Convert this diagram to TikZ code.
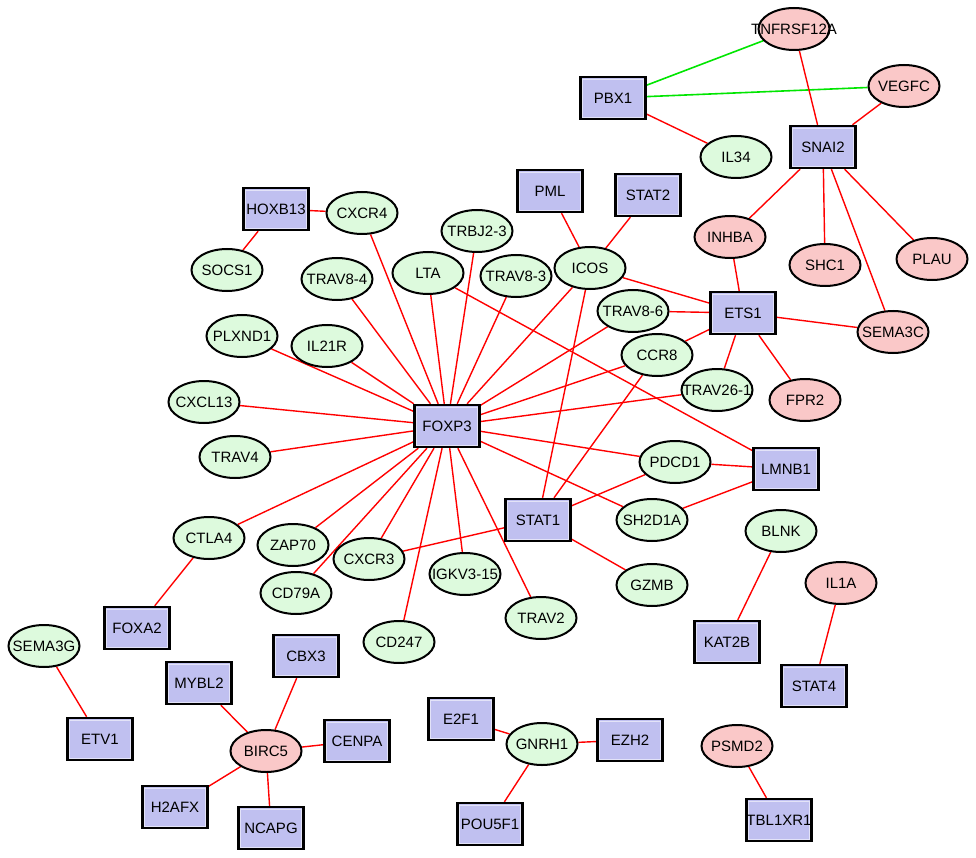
\documentclass[tikz,border=0pt]{standalone}
\usepackage{fontspec}
\setmainfont{Liberation Sans}
\usetikzlibrary{shapes.geometric,backgrounds}
\definecolor{gfill}{RGB}{221,250,221}
\definecolor{pfill}{RGB}{250,200,200}
\definecolor{bfill}{RGB}{192,192,240}
\definecolor{edgered}{RGB}{255,0,0}
\definecolor{edgegreen}{RGB}{0,230,0}
\tikzset{
  el/.style={ellipse, draw=black, line width=2pt, minimum width=71pt, minimum height=42pt, inner sep=0pt,
    label={[font=\fontsize{15}{17}\selectfont, inner sep=0pt]center:#1}},
  gn/.style={el={#1}, fill=gfill},
  pk/.style={el={#1}, fill=pfill},
  bx/.style={rectangle, draw=black, line width=2.4pt, fill=bfill, minimum width=65pt, minimum height=42pt,
    inner sep=0pt, font=\fontsize{15}{17}\selectfont,
    path picture={\draw[white!55!bfill, line width=0.9pt]
      ([shift={(2pt,-2pt)}]path picture bounding box.north west) rectangle
      ([shift={(-2pt,2pt)}]path picture bounding box.south east);}},
  re/.style={draw=edgered, line width=1.4pt},
  ge/.style={draw=edgegreen, line width=1.6pt}
}
\begin{document}
\begin{tikzpicture}[x=1pt,y=-1pt]
\useasboundingbox (0,0) rectangle (976,858);
% blue boxes
\node[bx] (PBX1) at (613,98) {PBX1};
\node[bx] (SNAI2) at (823,147) {SNAI2};
\node[bx] (STAT2) at (648,195) {STAT2};
\node[bx] (PML) at (550,191) {PML};
\node[bx] (HOXB13) at (276,209) {HOXB13};
\node[bx] (ETS1) at (743,313) {ETS1};
\node[bx] (FOXP3) at (447,426) {FOXP3};
\node[bx] (LMNB1) at (786,469) {LMNB1};
\node[bx] (STAT1) at (538,520) {STAT1};
\node[bx] (FOXA2) at (137,628) {FOXA2};
\node[bx] (KAT2B) at (727,642) {KAT2B};
\node[bx] (STAT4) at (814,686) {STAT4};
\node[bx] (E2F1) at (461,719) {E2F1};
\node[bx] (EZH2) at (630,740) {EZH2};
\node[bx] (POU5F1) at (490,824) {POU5F1};
\node[bx] (TBL1XR1) at (779,820) {TBL1XR1};
\node[bx] (ETV1) at (100,739) {ETV1};
\node[bx] (MYBL2) at (199,683) {MYBL2};
\node[bx] (CBX3) at (306,656) {CBX3};
\node[bx] (CENPA) at (357,741) {CENPA};
\node[bx] (H2AFX) at (175,807) {H2AFX};
\node[bx] (NCAPG) at (271,828) {NCAPG};
% pink ellipses
\node[pk=TNFRSF12A] (TNFRSF12A) at (794,29) {};
\node[pk=VEGFC] (VEGFC) at (904,86) {};
\node[pk=INHBA] (INHBA) at (730,237) {};
\node[pk=SHC1] (SHC1) at (825,265) {};
\node[pk=PLAU] (PLAU) at (932,259) {};
\node[pk=SEMA3C] (SEMA3C) at (893,332) {};
\node[pk=FPR2] (FPR2) at (805,400) {};
\node[pk=IL1A] (IL1A) at (841,583) {};
\node[pk=PSMD2] (PSMD2) at (737,746) {};
\node[pk=BIRC5] (BIRC5) at (266,751) {};
% green ellipses
\node[gn=IL34] (IL34) at (736,157) {};
\node[gn=ICOS] (ICOS) at (590,268) {};
\node[gn=CXCR4] (CXCR4) at (362,213) {};
\node[gn=SOCS1] (SOCS1) at (227,270) {};
\node[gn=TRBJ2-3] (trbj23) at (477,231) {};
\node[gn=TRAV8-4] (trav84) at (337,279) {};
\node[gn=LTA] (LTA) at (428,273) {};
\node[gn=TRAV8-3] (trav83) at (516,276) {};
\node[gn=PLXND1] (PLXND1) at (242,336) {};
\node[gn=IL21R] (IL21R) at (327,346) {};
\node[gn=CXCL13] (CXCL13) at (204,402) {};
\node[gn=TRAV4] (TRAV4) at (235,457) {};
\node[gn=TRAV8-6] (trav86) at (633,311) {};
\node[gn=CCR8] (CCR8) at (657,355) {};
\node[gn=TRAV26-1] (trav261) at (717,390) {};
\node[gn=PDCD1] (PDCD1) at (675,462) {};
\node[gn=SH2D1A] (SH2D1A) at (652,520) {};
\node[gn=BLNK] (BLNK) at (781,531) {};
\node[gn=GZMB] (GZMB) at (652,585) {};
\node[gn=IGKV3-15] (igkv315) at (465,574) {};
\node[gn=TRAV2] (TRAV2) at (541,618) {};
\node[gn=CTLA4] (CTLA4) at (209,538) {};
\node[gn=ZAP70] (ZAP70) at (293,545) {};
\node[gn=CXCR3] (CXCR3) at (369,559) {};
\node[gn=CD79A] (CD79A) at (296,593) {};
\node[gn=CD247] (CD247) at (399,642) {};
\node[gn=SEMA3G] (SEMA3G) at (44,646) {};
\node[gn=GNRH1] (GNRH1) at (542,744) {};
\begin{scope}[on background layer]
\fill[white] (0,0) rectangle (976,858);
\draw[ge] (PBX1) -- (TNFRSF12A);
\draw[ge] (PBX1) -- (VEGFC);
\foreach \a/\b in {PBX1/IL34, TNFRSF12A/SNAI2, VEGFC/SNAI2, SNAI2/INHBA, SNAI2/SHC1, SNAI2/SEMA3C,
  SNAI2/PLAU, INHBA/ETS1, HOXB13/CXCR4, HOXB13/SOCS1, PML/ICOS, STAT2/ICOS, ICOS/ETS1, ICOS/FOXP3,
  ICOS/STAT1, trav86/ETS1, trav86/FOXP3, CCR8/ETS1, CCR8/FOXP3, CCR8/STAT1, ETS1/trav261, ETS1/FPR2,
  ETS1/SEMA3C, trav261/FOXP3, LTA/LMNB1, LTA/FOXP3, CXCR4/FOXP3, trbj23/FOXP3, trav84/FOXP3,
  trav83/FOXP3, PLXND1/FOXP3, IL21R/FOXP3, CXCL13/FOXP3, TRAV4/FOXP3, CTLA4/FOXP3, ZAP70/FOXP3,
  CD79A/FOXP3, CXCR3/FOXP3, CD247/FOXP3, igkv315/FOXP3, TRAV2/FOXP3, SH2D1A/FOXP3, PDCD1/FOXP3,
  PDCD1/LMNB1, PDCD1/STAT1, SH2D1A/LMNB1, STAT1/CXCR3, STAT1/GZMB, CTLA4/FOXA2, BLNK/KAT2B,
  IL1A/STAT4, SEMA3G/ETV1, BIRC5/MYBL2, BIRC5/CBX3, BIRC5/CENPA, BIRC5/H2AFX, BIRC5/NCAPG,
  GNRH1/E2F1, GNRH1/EZH2, GNRH1/POU5F1, PSMD2/TBL1XR1}
  \draw[re] (\a) -- (\b);
\end{scope}
\end{tikzpicture}
\end{document}
